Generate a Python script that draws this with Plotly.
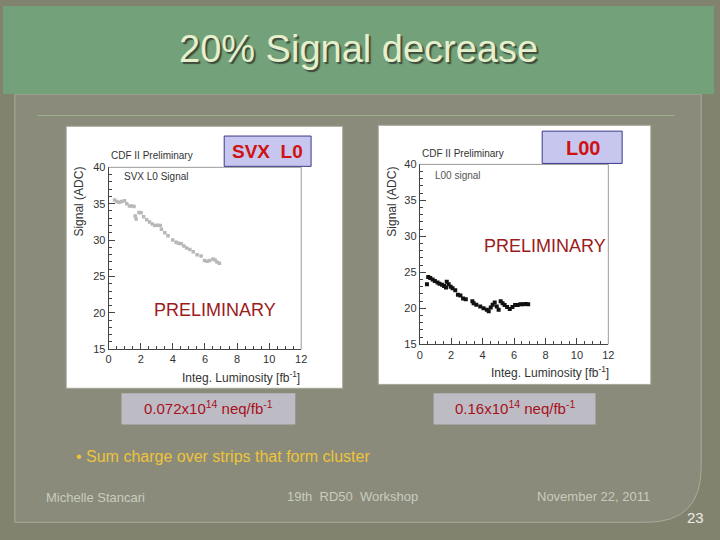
import plotly.graph_objects as go

W, H = 720, 540

# ---------------- data ----------------
svx_lumi = [0.37, 0.51, 0.66, 0.82, 0.99, 1.13, 1.30, 1.44, 1.58, 1.65, 1.71, 1.89, 2.02, 2.18,
            2.37, 2.55, 2.72, 2.88, 3.05, 3.21, 3.29, 3.50, 3.70, 3.99, 4.20, 4.36, 4.53, 4.69,
            4.86, 5.06, 5.27, 5.51, 5.76, 5.97, 6.13, 6.30, 6.50, 6.63, 6.75, 6.90]
svx_signal = [35.5, 35.3, 35.2, 35.3, 35.4, 35.0, 34.7, 34.7, 34.6, 33.3, 32.9, 33.8, 33.75, 33.2,
              32.8, 32.5, 32.2, 32.0, 32.05, 32.0, 31.5, 31.0, 30.6, 30.0, 29.7, 29.55, 29.5, 29.2,
              28.9, 28.7, 28.4, 28.0, 27.8, 27.2, 27.1, 27.2, 27.4, 27.25, 27.0, 26.8]

l00_lumi = [0.46, 0.54, 0.67, 0.82, 0.96, 1.13, 1.26, 1.42, 1.55, 1.67, 1.72, 1.84, 1.97, 2.09,
            2.26, 2.43, 2.59, 2.76, 2.93, 3.35, 3.43, 3.60, 3.85, 4.06, 4.27, 4.39, 4.52, 4.64,
            4.77, 4.90, 5.02, 5.15, 5.27, 5.40, 5.56, 5.73, 5.90, 6.07, 6.23, 6.40, 6.57, 6.74, 6.90]
l00_signal = [23.35, 24.35, 24.2, 24.0, 23.8, 23.6, 23.4, 23.26, 23.1, 22.9, 23.7, 23.35, 23.0, 22.8,
              22.5, 21.9, 21.8, 21.35, 21.25, 21.0, 20.7, 20.5, 20.25, 20.0, 19.8, 19.6, 20.1, 20.5,
              20.8, 20.25, 19.8, 21.0, 20.7, 20.45, 20.2, 19.9, 20.2, 20.45, 20.45, 20.55, 20.55, 20.6, 20.55]

x_range = [0, 12]
y_range = [15, 40]
x_ticks = [0, 2, 4, 6, 8, 10, 12]
y_ticks = [15, 20, 25, 30, 35, 40]

title_text = "20% Signal decrease"
left_label = "SVX  L0"
right_label = "L00"
left_fluence = "0.072x10<sup>14</sup> neq/fb<sup>-1</sup>"
right_fluence = "0.16x10<sup>14</sup> neq/fb<sup>-1</sup>"
bullet_text = "• Sum charge over strips that form cluster"
footer_left = "Michelle Stancari"
footer_mid = "19th  RD50  Workshop"
footer_right = "November 22, 2011"
page_no = "23"

# ---------------- helpers ----------------
def px(x):
    return x / W

def py(y):
    return 1 - y / H

FONT = "Liberation Sans, Arial, sans-serif"

fig = go.Figure()

fig.add_trace(go.Scatter(x=svx_lumi, y=svx_signal, mode="markers",
                         marker=dict(symbol="square", size=3.5, color="#b8b8b8"),
                         xaxis="x", yaxis="y", showlegend=False, hoverinfo="skip"))
fig.add_trace(go.Scatter(x=l00_lumi, y=l00_signal, mode="markers",
                         marker=dict(symbol="square", size=4, color="#111111"),
                         xaxis="x2", yaxis="y2", showlegend=False, hoverinfo="skip"))

# axis domains (pixels)
L = dict(x0=107, x1=302, y0=165, y1=351)
R = dict(x0=422, x1=613, y0=162, y1=346)

def xaxis_cfg(d, anchor):
    return dict(domain=[px(d["x0"]), px(d["x1"])], range=x_range, anchor=anchor,
                tickvals=x_ticks, ticks="inside", ticklen=6, tickcolor="#444",
                minor=dict(ticks="inside", ticklen=3, dtick=0.5, tickcolor="#444"),
                showline=True, linecolor="#444", linewidth=1, mirror=False,
                showgrid=False, zeroline=False,
                tickfont=dict(family=FONT, size=11, color="#333"), fixedrange=True)

def yaxis_cfg(d, anchor):
    return dict(domain=[py(d["y1"]), py(d["y0"])], range=y_range, anchor=anchor,
                tickvals=y_ticks, ticks="inside", ticklen=6, tickcolor="#444",
                minor=dict(ticks="inside", ticklen=3, dtick=1, tickcolor="#444"),
                showline=True, linecolor="#444", linewidth=1, mirror=False,
                showgrid=False, zeroline=False,
                tickfont=dict(family=FONT, size=11, color="#333"), fixedrange=True)

shapes = []
# whole background (outer, darker)
shapes.append(dict(type="rect", xref="paper", yref="paper", x0=0, x1=1, y0=0, y1=1,
                   fillcolor="#82836f", line=dict(width=0), layer="below"))
# inner panel with rounded bottom-right corner
path = (f"M {px(12)} {py(90)} L {px(12)} {py(528)} L {px(652)} {py(528)} "
        f"Q {px(707)} {py(528)} {px(707)} {py(472)} L {px(707)} {py(90)} Z")
shapes.append(dict(type="path", xref="paper", yref="paper", path=path,
                   fillcolor="#8a8b7a", line=dict(color="#a9ab99", width=1), layer="below"))
# green title bar
shapes.append(dict(type="rect", xref="paper", yref="paper", x0=0, x1=1, y0=py(90), y1=1,
                   fillcolor="#72a17a", line=dict(width=0), layer="below"))
# divider line
shapes.append(dict(type="line", xref="paper", yref="paper", x0=px(35), x1=px(680),
                   y0=py(112), y1=py(112), line=dict(color="#9cb08e", width=1), layer="below"))
# white chart images
shapes.append(dict(type="rect", xref="paper", yref="paper", x0=px(64), x1=px(344),
                   y0=py(391), y1=py(123), fillcolor="white", line=dict(color="#a5a597", width=1),
                   layer="below"))
shapes.append(dict(type="rect", xref="paper", yref="paper", x0=px(380), x1=px(656),
                   y0=py(387), y1=py(122), fillcolor="white", line=dict(color="#a5a597", width=1),
                   layer="below"))
# grey top/right frame of each plot
for d in (L, R):
    shapes.append(dict(type="line", xref="paper", yref="paper", x0=px(d["x0"]), x1=px(d["x1"]),
                       y0=py(d["y0"]), y1=py(d["y0"]), line=dict(color="#9a9a9a", width=1), layer="above"))
    shapes.append(dict(type="line", xref="paper", yref="paper", x0=px(d["x1"]), x1=px(d["x1"]),
                       y0=py(d["y0"]), y1=py(d["y1"]), line=dict(color="#9a9a9a", width=1), layer="above"))
# label boxes
shapes.append(dict(type="rect", xref="paper", yref="paper", x0=px(224), x1=px(312),
                   y0=py(164), y1=py(133), fillcolor="#c6c6ee", line=dict(color="#3a3a8a", width=1),
                   layer="above"))
shapes.append(dict(type="rect", xref="paper", yref="paper", x0=px(546), x1=px(627),
                   y0=py(161), y1=py(128), fillcolor="#c6c6ee", line=dict(color="#3a3a8a", width=1),
                   layer="above"))
# fluence boxes
shapes.append(dict(type="rect", xref="paper", yref="paper", x0=px(120), x1=px(296),
                   y0=py(428), y1=py(396), fillcolor="#bdbcc4", line=dict(width=0), layer="above"))
shapes.append(dict(type="rect", xref="paper", yref="paper", x0=px(436), x1=px(600),
                   y0=py(428), y1=py(396), fillcolor="#bdbcc4", line=dict(width=0), layer="above"))

ann = []
def text(x, y, s, size, color, xanchor="center", bold=False, angle=0, shadow=None):
    if bold:
        s = f"<b>{s}</b>"
    font = dict(family=FONT, size=size, color=color)
    if shadow:
        font["shadow"] = shadow
    ann.append(dict(x=px(x), y=py(y), xref="paper", yref="paper", text=s, showarrow=False,
                    xanchor=xanchor, yanchor="middle", textangle=angle, font=font))

# title with shadow
text(360, 44, title_text, 38, "#e6f0cc", shadow="2px 2px 1px #3d4d3c")

# plot texts
text(107, 153, "CDF II Preliminary", 10, "#333", xanchor="left")
text(121, 174, "SVX L0 Signal", 10, "#333", xanchor="left")
text(77, 200, "Signal (ADC)", 12, "#333", angle=-90)
text(303, 379, "Integ. Luminosity [fb<sup>-1</sup>]", 12, "#333", xanchor="right")

text(422, 151, "CDF II Preliminary", 10, "#333", xanchor="left")
text(435, 173, "L00 signal", 10, "#555", xanchor="left")
text(393, 200, "Signal (ADC)", 12, "#333", angle=-90)
text(616, 374, "Integ. Luminosity [fb<sup>-1</sup>]", 12, "#333", xanchor="right")

text(268, 149, left_label, 19, "#d01212", bold=True)
text(587, 145, right_label, 20, "#d01212", bold=True)
text(215, 311, "PRELIMINARY", 18, "#9b1b1b")
text(549, 245, "PRELIMINARY", 18, "#9b1b1b")

text(208, 411, left_fluence, 15, "#a8101c")
text(518, 411, right_fluence, 15, "#a8101c")

text(72, 461, bullet_text, 16, "#eec43a", xanchor="left")

text(42, 503, footer_left, 13, "#c9cbbf", xanchor="left")
text(354, 502, footer_mid, 13, "#c9cbbf")
text(598, 502, footer_right, 13, "#c9cbbf")
text(701, 523, page_no, 15, "#ecece4")

fig.update_layout(
    width=W, height=H, margin=dict(l=0, r=0, t=0, b=0),
    paper_bgcolor="#82836f", plot_bgcolor="white",
    xaxis=xaxis_cfg(L, "y"), yaxis=yaxis_cfg(L, "x"),
    xaxis2=xaxis_cfg(R, "y2"), yaxis2=yaxis_cfg(R, "x2"),
    shapes=shapes, annotations=ann, showlegend=False,
)

fig.write_html("out.html", config={"displayModeBar": False})
